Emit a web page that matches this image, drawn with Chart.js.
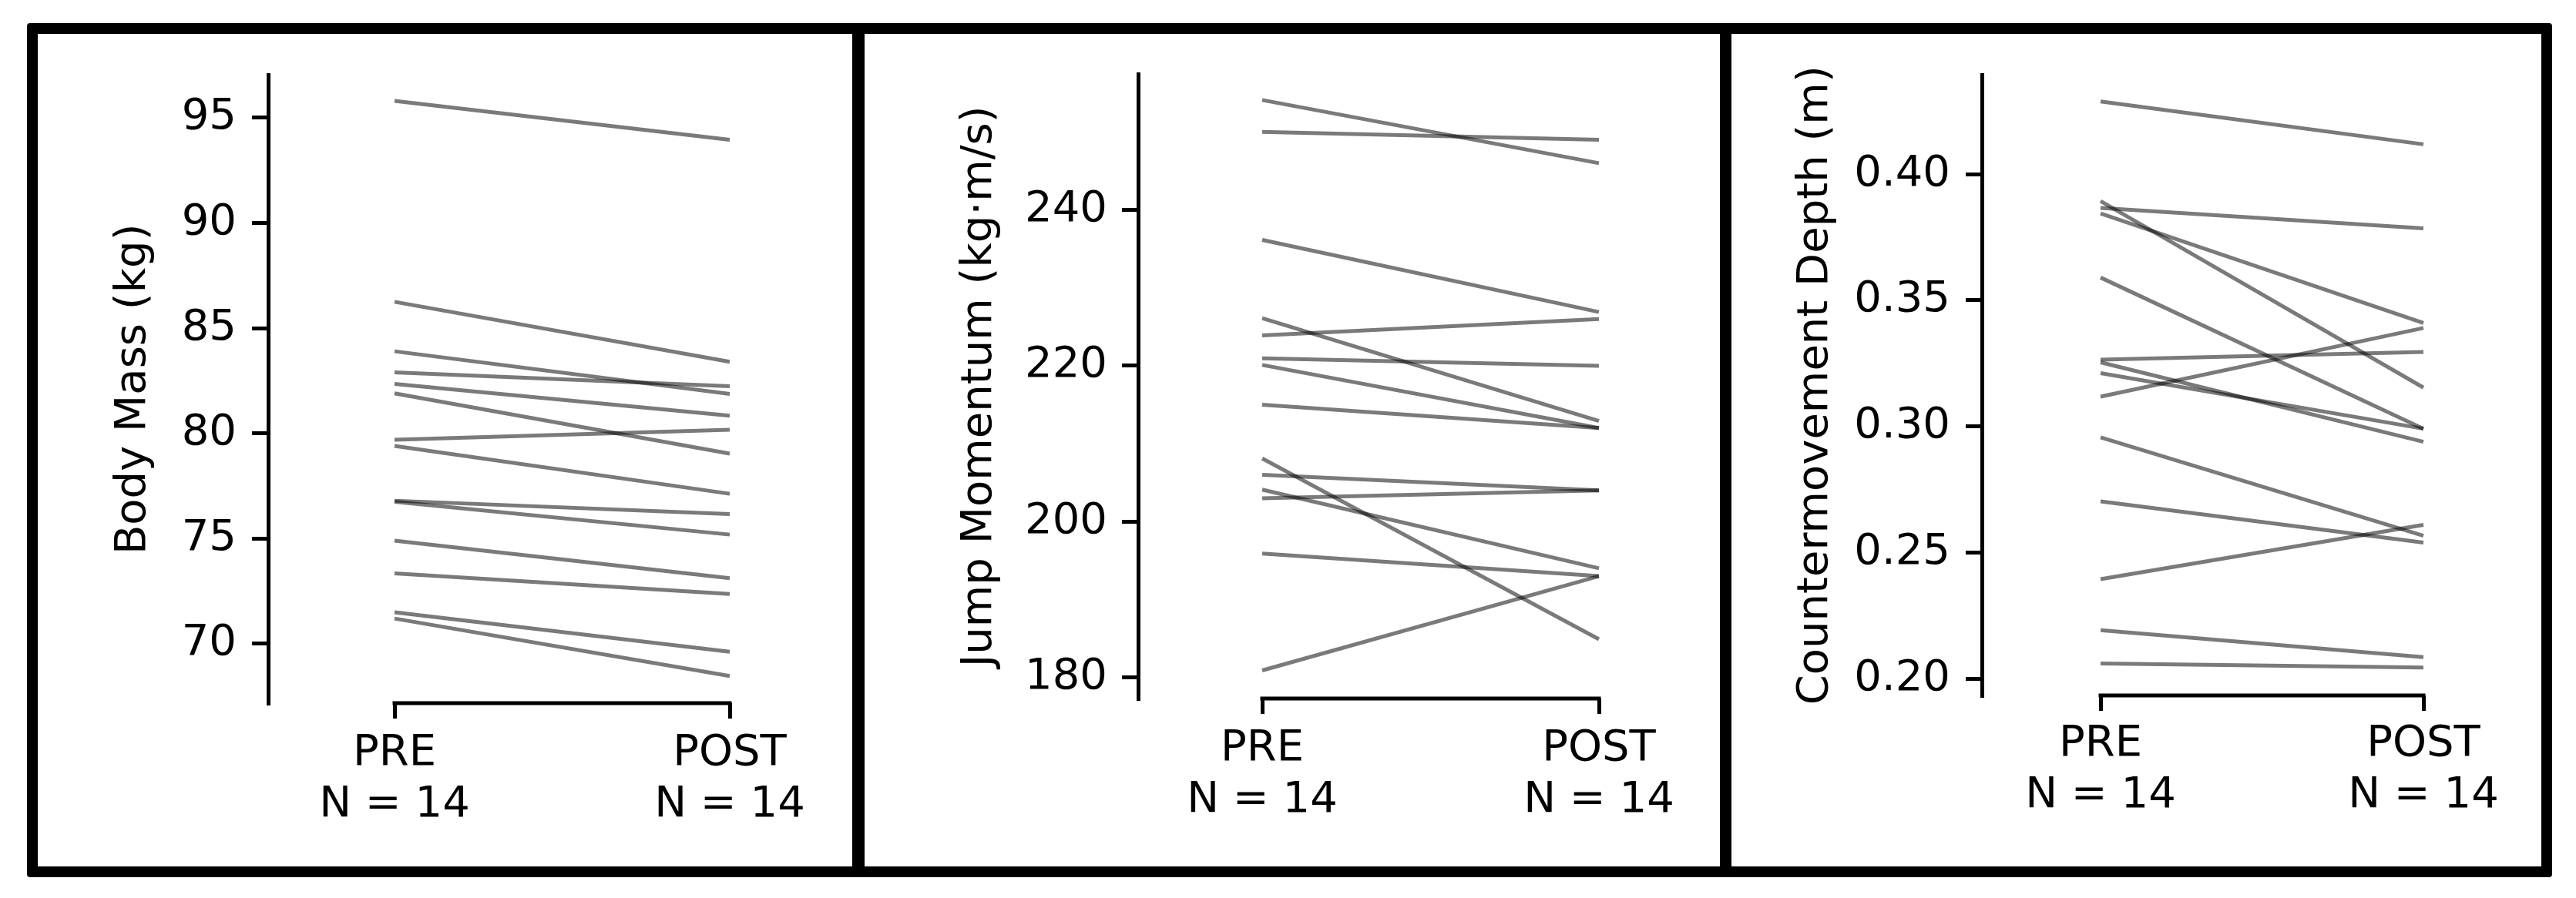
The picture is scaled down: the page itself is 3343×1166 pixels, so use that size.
<!DOCTYPE html>
<html>
<head>
<meta charset="utf-8">
<script src="https://cdn.jsdelivr.net/npm/chart.js@4.4.1/dist/chart.umd.min.js"></script>
<style>
  html, body { margin: 0; padding: 0; background: #fff; width: 3343px; height: 1166px; overflow: hidden; }
  .frame { position: absolute; left: 35px; top: 30px; width: 3277px; height: 1109px; box-sizing: border-box; border: 14px solid #000; border-radius: 4px; }
  .divider { position: absolute; top: 30px; height: 1109px; background: #000; }
  canvas { position: absolute; top: 44px; }
</style>
</head>
<body>
<div class="frame"></div>
<div class="divider" style="left:1106px;width:16px;"></div>
<div class="divider" style="left:2232px;width:15px;"></div>
<canvas id="c1" width="1057" height="1081" style="left:49px"></canvas>
<canvas id="c2" width="1110" height="1081" style="left:1122px"></canvas>
<canvas id="c3" width="1051" height="1081" style="left:2247px"></canvas>
<script>
// ---------- data ----------
const categories = ['PRE', 'POST'];

const massPre  = [95.8, 86.25, 83.9, 82.9, 82.35, 81.9, 79.7, 79.4, 76.8, 76.75, 74.9, 73.35, 71.5, 71.2];
const massPost = [93.95, 83.4, 81.87, 82.24, 80.84, 79.04, 80.17, 77.13, 76.16, 75.19, 73.12, 72.37, 69.62, 68.47];
const massTicks = [70, 75, 80, 85, 90, 95];
const massRange = [67.18, 97.02];

const momentumPre  = [254.1, 250.0, 236.15, 226.1, 223.9, 220.95, 220.1, 215.0, 208.1, 206.0, 204.1, 203.0, 195.9, 180.9];
const momentumPost = [246.0, 249.0, 226.9, 212.9, 226.0, 220.0, 212.0, 212.0, 184.9, 204.0, 194.0, 204.0, 193.0, 193.0];
const momentumTicks = [180, 200, 220, 240];
const momentumRange = [177.29, 257.39];

const depthPre  = [0.4288, 0.3893, 0.3866, 0.3844, 0.3590, 0.3265, 0.3254, 0.3211, 0.3118, 0.2957, 0.2703, 0.2395, 0.2193, 0.2061];
const depthPost = [0.4118, 0.3154, 0.3785, 0.3410, 0.2991, 0.3295, 0.2939, 0.2991, 0.3390, 0.2567, 0.2540, 0.2610, 0.2086, 0.2045];
const depthTicks = [0.20, 0.25, 0.30, 0.35, 0.40];
const depthRange = [0.1934, 0.4392];

// ---------- layout (page pixels) ----------
const CANVAS_TOP = 44, CANVAS_H = 1081;
const panels = [
  { id: 'c1', pre: massPre, post: massPost, ticks: massTicks, range: massRange, decimals: 0,
    title: 'Body Mass (kg)',
    canvasLeft: 49, canvasW: 1057, axisX: 348, preX: 512, postX: 947, plotTop: 87, plotBottom: 913, titleX: 173, yPad: 20, xPad: 12 },
  { id: 'c2', pre: momentumPre, post: momentumPost, ticks: momentumTicks, range: momentumRange, decimals: 0,
    title: 'Jump Momentum (kg\u00B7m/s)',
    canvasLeft: 1122, canvasW: 1110, axisX: 1477, preX: 1638, postX: 2075, plotTop: 88, plotBottom: 907, titleX: 1271, yPad: 19, xPad: 12 },
  { id: 'c3', pre: depthPre, post: depthPost, ticks: depthTicks, range: depthRange, decimals: 2,
    title: 'Countermovement Depth (m)',
    canvasLeft: 2247, canvasW: 1051, axisX: 2572, preX: 2726, postX: 3145, plotTop: 97, plotBottom: 903, titleX: 2356, yPad: 20, xPad: 10 }
];

const FONT_SIZE = 56;
const LINE_H = 1.2;
Chart.defaults.font.family = "'DejaVu Sans', sans-serif";
Chart.defaults.font.size = FONT_SIZE;
Chart.defaults.color = '#000';

const spinePlugin = {
  id: 'xspine',
  afterDraw(chart) {
    const xs = chart.scales.x;
    const ctx = chart.ctx;
    const y = chart.chartArea.bottom;
    ctx.save();
    ctx.strokeStyle = '#000';
    ctx.lineWidth = 5;
    ctx.lineCap = 'square';
    ctx.beginPath();
    ctx.moveTo(xs.getPixelForValue(0), y);
    ctx.lineTo(xs.getPixelForValue(1), y);
    ctx.stroke();
    ctx.restore();
  }
};

panels.forEach(p => {
  const cx = p.canvasLeft, cw = p.canvasW;
  const areaLeft = p.axisX - cx;
  const padLeft = p.titleX - cx - FONT_SIZE * LINE_H / 2;
  const yWidth = areaLeft - padLeft;
  const padRight = 50;
  const areaRight = cw - padRight;
  const preP = p.preX - cx, postP = p.postX - cx, span = postP - preP;
  const xMin = -(preP - areaLeft) / span;
  const xMax = 1 + (areaRight - postP) / span;
  const padTop = p.plotTop - CANVAS_TOP;
  const xHeight = CANVAS_H - (p.plotBottom - CANVAS_TOP);
  const n = p.pre.length;

  const datasets = p.pre.map((v, i) => ({
    data: [{ x: 0, y: v }, { x: 1, y: p.post[i] }],
    borderColor: 'rgba(0,0,0,0.52)',
    borderWidth: 5,
    pointRadius: 0,
    pointHoverRadius: 0,
    fill: false,
    tension: 0
  }));

  new Chart(document.getElementById(p.id), {
    type: 'line',
    data: { datasets },
    plugins: [spinePlugin],
    options: {
      responsive: false,
      animation: false,
      devicePixelRatio: 1,
      layout: { padding: { left: padLeft, top: padTop, right: padRight, bottom: 0 } },
      plugins: { legend: { display: false }, tooltip: { enabled: false } },
      scales: {
        x: {
          type: 'linear',
          min: xMin, max: xMax,
          border: { display: false },
          grid: { display: true, drawOnChartArea: false, drawTicks: true, tickLength: 20, lineWidth: 5, color: '#000' },
          ticks: {
            autoSkip: false, maxRotation: 0, minRotation: 0, padding: p.xPad,
            font: { size: FONT_SIZE, lineHeight: LINE_H },
            callback: (value, index) => [categories[index], 'N = ' + n]
          },
          afterBuildTicks: s => { s.ticks = [{ value: 0 }, { value: 1 }]; },
          afterFit: s => { s.height = xHeight; }
        },
        y: {
          type: 'linear',
          min: p.range[0], max: p.range[1],
          border: { display: true, width: 5, color: '#000' },
          grid: { display: true, drawOnChartArea: false, drawTicks: true, tickLength: 21, lineWidth: 5, color: '#000' },
          ticks: {
            autoSkip: false, padding: p.yPad,
            font: { size: FONT_SIZE },
            callback: v => Number(v).toFixed(p.decimals)
          },
          title: { display: true, text: p.title, padding: 0, font: { size: FONT_SIZE, lineHeight: LINE_H }, color: '#000' },
          afterBuildTicks: s => { s.ticks = p.ticks.map(v => ({ value: v })); },
          afterFit: s => { s.width = yWidth; }
        }
      }
    }
  });
});
</script>
</body>
</html>
